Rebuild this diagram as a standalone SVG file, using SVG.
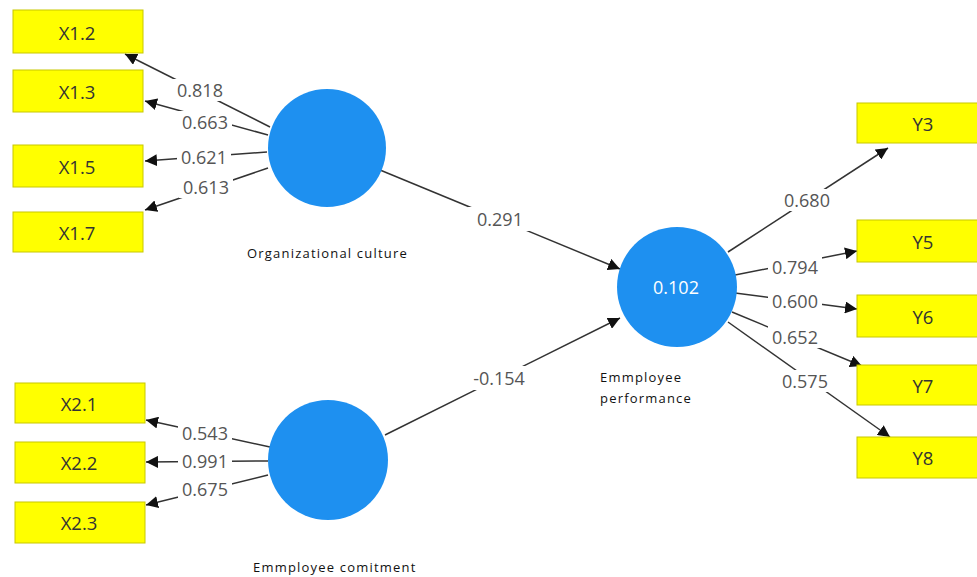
<svg xmlns="http://www.w3.org/2000/svg" width="977" height="577" viewBox="0 0 977 577">
<defs>
<marker id="ah" viewBox="0 0 10 10" refX="10" refY="5" markerWidth="12" markerHeight="12" markerUnits="userSpaceOnUse" orient="auto">
<path d="M0,0 L10,5 L0,10 z" fill="#111"/>
</marker>
<style>
.box{fill:#ffff00;stroke:#c8c800;stroke-width:1}
.bt{font-family:"Open Sans","Noto Sans",sans-serif;font-size:18.5px;fill:#333;text-anchor:middle;dominant-baseline:central}
.lv{fill:#1e90f0}
.lbl{font-family:"Open Sans","Noto Sans",sans-serif;font-size:13px;letter-spacing:1.2px;fill:#111}
.ln{stroke:#333;stroke-width:1.5;fill:none;marker-end:url(#ah)}
.w{font-family:"Open Sans","Noto Sans",sans-serif;font-size:18px;fill:#555;text-anchor:middle;dominant-baseline:central}
.bg{fill:#fff}
</style>
</defs>
<rect width="977" height="577" fill="#fff"/>
<g id="connectors">
<line class="ln" x1="270" y1="127" x2="125" y2="54"/>
<line class="ln" x1="268" y1="135" x2="145" y2="101"/>
<line class="ln" x1="267" y1="152" x2="145" y2="161"/>
<line class="ln" x1="268" y1="168" x2="145" y2="210"/>
<line class="ln" x1="380" y1="170" x2="620" y2="269"/>
<line class="ln" x1="385" y1="435" x2="620" y2="318"/>
<line class="ln" x1="270" y1="447" x2="146" y2="420"/>
<line class="ln" x1="268" y1="461" x2="146" y2="462"/>
<line class="ln" x1="268" y1="475" x2="146" y2="505"/>
<line class="ln" x1="728" y1="252" x2="888" y2="148"/>
<line class="ln" x1="735" y1="275" x2="857" y2="251"/>
<line class="ln" x1="735" y1="293" x2="857" y2="309"/>
<line class="ln" x1="732" y1="312" x2="862" y2="366"/>
<line class="ln" x1="728" y1="322" x2="890" y2="437"/>
<g id="weights">
<rect class="bg" x="173" y="79" width="54" height="22"/><text class="w" x="200" y="90">0.818</text>
<rect class="bg" x="178" y="111" width="54" height="22"/><text class="w" x="205" y="122">0.663</text>
<rect class="bg" x="177" y="146" width="54" height="22"/><text class="w" x="204" y="157">0.621</text>
<rect class="bg" x="179" y="176" width="54" height="22"/><text class="w" x="206" y="187">0.613</text>
<rect class="bg" x="468" y="207" width="64" height="24"/><text class="w" x="500" y="219">0.291</text>
<rect class="bg" x="464" y="366" width="70" height="24"/><text class="w" x="499" y="378">-0.154</text>
<rect class="bg" x="178" y="422" width="54" height="22"/><text class="w" x="205" y="433">0.543</text>
<rect class="bg" x="178" y="450" width="54" height="22"/><text class="w" x="205" y="461">0.991</text>
<rect class="bg" x="178" y="478" width="54" height="22"/><text class="w" x="205" y="489">0.675</text>
<rect class="bg" x="780" y="189" width="54" height="22"/><text class="w" x="807" y="200">0.680</text>
<rect class="bg" x="768" y="256" width="54" height="22"/><text class="w" x="795" y="267">0.794</text>
<rect class="bg" x="768" y="290" width="54" height="22"/><text class="w" x="795" y="301">0.600</text>
<rect class="bg" x="768" y="326" width="54" height="22"/><text class="w" x="795" y="337">0.652</text>
<rect class="bg" x="778" y="370" width="54" height="22"/><text class="w" x="805" y="381">0.575</text>
</g>
</g>
<g id="X1.2"><rect class="box" x="13" y="10" width="130" height="43"/><text class="bt" x="77" y="32">X1.2</text></g>
<g id="X1.3"><rect class="box" x="13" y="70" width="130" height="42"/><text class="bt" x="77" y="91">X1.3</text></g>
<g id="X1.5"><rect class="box" x="13" y="145" width="130" height="42"/><text class="bt" x="77" y="166">X1.5</text></g>
<g id="X1.7"><rect class="box" x="13" y="212" width="130" height="40"/><text class="bt" x="77" y="232">X1.7</text></g>
<g id="X2.1"><rect class="box" x="15" y="383" width="130" height="40"/><text class="bt" x="79" y="403">X2.1</text></g>
<g id="X2.2"><rect class="box" x="15" y="442" width="130" height="41"/><text class="bt" x="79" y="462">X2.2</text></g>
<g id="X2.3"><rect class="box" x="15" y="502" width="130" height="41"/><text class="bt" x="79" y="522">X2.3</text></g>
<g id="Y3"><rect class="box" x="857" y="103" width="125" height="40"/><text class="bt" x="923" y="123">Y3</text></g>
<g id="Y5"><rect class="box" x="857" y="220" width="125" height="42"/><text class="bt" x="923" y="241">Y5</text></g>
<g id="Y6"><rect class="box" x="857" y="295" width="125" height="42"/><text class="bt" x="923" y="316">Y6</text></g>
<g id="Y7"><rect class="box" x="857" y="365" width="125" height="40"/><text class="bt" x="923" y="385">Y7</text></g>
<g id="Y8"><rect class="box" x="857" y="437" width="125" height="41"/><text class="bt" x="923" y="457">Y8</text></g>
<g id="org-culture"><circle class="lv" cx="327" cy="148" r="59"/><text class="lbl" x="247" y="258">Organizational culture</text></g>
<g id="emp-commitment"><circle class="lv" cx="328" cy="460" r="60"/><text class="lbl" x="253" y="572">Emmployee comitment</text></g>
<g id="emp-performance"><circle class="lv" cx="677" cy="287" r="60"/><text x="676" y="287" font-family="Open Sans, Noto Sans, sans-serif" font-size="18" fill="#fff" text-anchor="middle" dominant-baseline="central">0.102</text><text class="lbl" x="600" y="382">Emmployee</text><text class="lbl" x="600" y="403">performance</text></g>
</svg>
